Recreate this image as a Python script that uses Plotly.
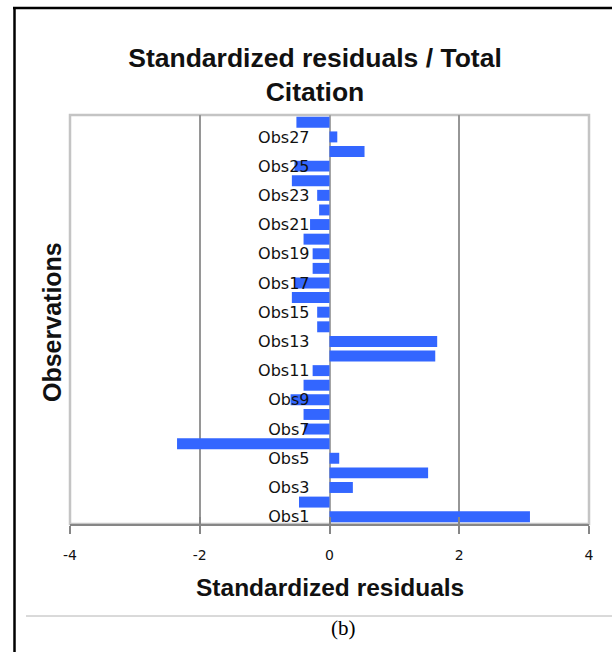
import plotly.graph_objects as go

# ---- data ----
observations = [f"Obs{i}" for i in range(1, 29)]
residuals = [3.09, -0.47, 0.36, 1.52, 0.15, -2.35, -0.39, -0.40, -0.60, -0.40,
             -0.26, 1.63, 1.66, -0.19, -0.19, -0.58, -0.54, -0.26, -0.26, -0.40,
             -0.30, -0.16, -0.19, -0.58, -0.54, 0.54, 0.12, -0.51]
label_obs = [f"Obs{i}" for i in range(1, 28, 2)]
x_ticks = [-4, -2, 0, 2, 4]

W, H = 612, 652
L, R, T, B = 70, 589, 115, 524  # plot area in pixels


def px(p):
    return (p - L) / (R - L)


def py(p):
    return (B - p) / (B - T)


fig = go.Figure()
fig.add_trace(go.Bar(
    x=residuals, y=observations, orientation="h",
    marker=dict(color="#3366FF", line=dict(width=0)),
    hoverinfo="x+y",
))

fig.update_layout(
    width=W, height=H,
    margin=dict(l=L, r=W - R, t=T, b=H - B),
    paper_bgcolor="white", plot_bgcolor="white",
    bargap=0.25,
    showlegend=False,
    title=dict(
        text="<b>Standardized residuals / Total<br>Citation</b>",
        font=dict(family="Liberation Sans, Arial", size=26.5, color="#111"),
        x=315 / W, xref="container", xanchor="center",
        y=1 - 67 / H, yref="container", yanchor="middle",
    ),
    xaxis=dict(
        range=[-4, 4], tickvals=x_ticks, ticktext=[str(v) for v in x_ticks],
        showgrid=True, gridcolor="#969696", gridwidth=1.5,
        zeroline=True, zerolinecolor="#a4a4a4", zerolinewidth=2,
        showline=True, linecolor="#868686", linewidth=1.5,
        ticks="outside", ticklen=8, tickcolor="#868686", tickwidth=1.5,
        tickfont=dict(family="DejaVu Sans", size=14, color="#111"),
        ticklabelstandoff=9,
        fixedrange=True,
    ),
    xaxis2=dict(
        range=[-4, 4], tickvals=x_ticks, overlaying="x", matches="x",
        showgrid=False, zeroline=False, showticklabels=False,
        ticks="inside", ticklen=7, tickcolor="#868686", tickwidth=1.5,
        anchor="y", side="bottom",
    ),
    yaxis=dict(
        categoryorder="array", categoryarray=observations,
        range=[-0.5, 27.5],
        tickvals=label_obs, ticktext=label_obs,
        anchor="free", position=0.5,
        showgrid=False, zeroline=False, showline=False, ticks="",
        tickfont=dict(family="DejaVu Sans", size=16, color="#111"),
        ticklabelstandoff=20,
        fixedrange=True,
    ),
    shapes=[
        # plot frame
        dict(type="rect", xref="paper", yref="paper", x0=0, y0=0, x1=1, y1=1,
             line=dict(color="#c4c4c4", width=2.5), layer="below"),
        # outer black frame (top and left)
        dict(type="line", xref="paper", yref="paper", x0=px(13), x1=px(615),
             y0=py(8), y1=py(8), line=dict(color="black", width=2.5)),
        dict(type="line", xref="paper", yref="paper", x0=px(14.5), x1=px(14.5),
             y0=py(7), y1=py(660), line=dict(color="black", width=2.5)),
        # separator line above caption
        dict(type="line", xref="paper", yref="paper", x0=px(26), x1=px(615),
             y0=py(616), y1=py(616), line=dict(color="#b4b4b4", width=1)),
    ],
    annotations=[
        dict(text="<b>Standardized residuals</b>", xref="paper", yref="paper",
             x=px(330), y=py(587), xanchor="center", yanchor="middle",
             showarrow=False,
             font=dict(family="Liberation Sans, Arial", size=24.5, color="#111")),
        dict(text="<b>Observations</b>", xref="paper", yref="paper",
             x=px(52), y=py(322), xanchor="center", yanchor="middle",
             textangle=-90, showarrow=False,
             font=dict(family="Liberation Sans, Arial", size=25, color="#111")),
        dict(text="(b)", xref="paper", yref="paper",
             x=px(343), y=py(628), xanchor="center", yanchor="middle",
             showarrow=False,
             font=dict(family="Liberation Serif, Times New Roman", size=21, color="black")),
    ],
)

# invisible trace to activate xaxis2 for the inside tick marks
fig.add_trace(go.Scatter(x=[None], y=[None], xaxis="x2", yaxis="y",
                         showlegend=False, hoverinfo="skip"))

fig.write_html("out.html",
               config={"displayModeBar": False},
               post_script="document.body.style.margin='0px';"
                           "document.body.style.overflow='hidden';")
